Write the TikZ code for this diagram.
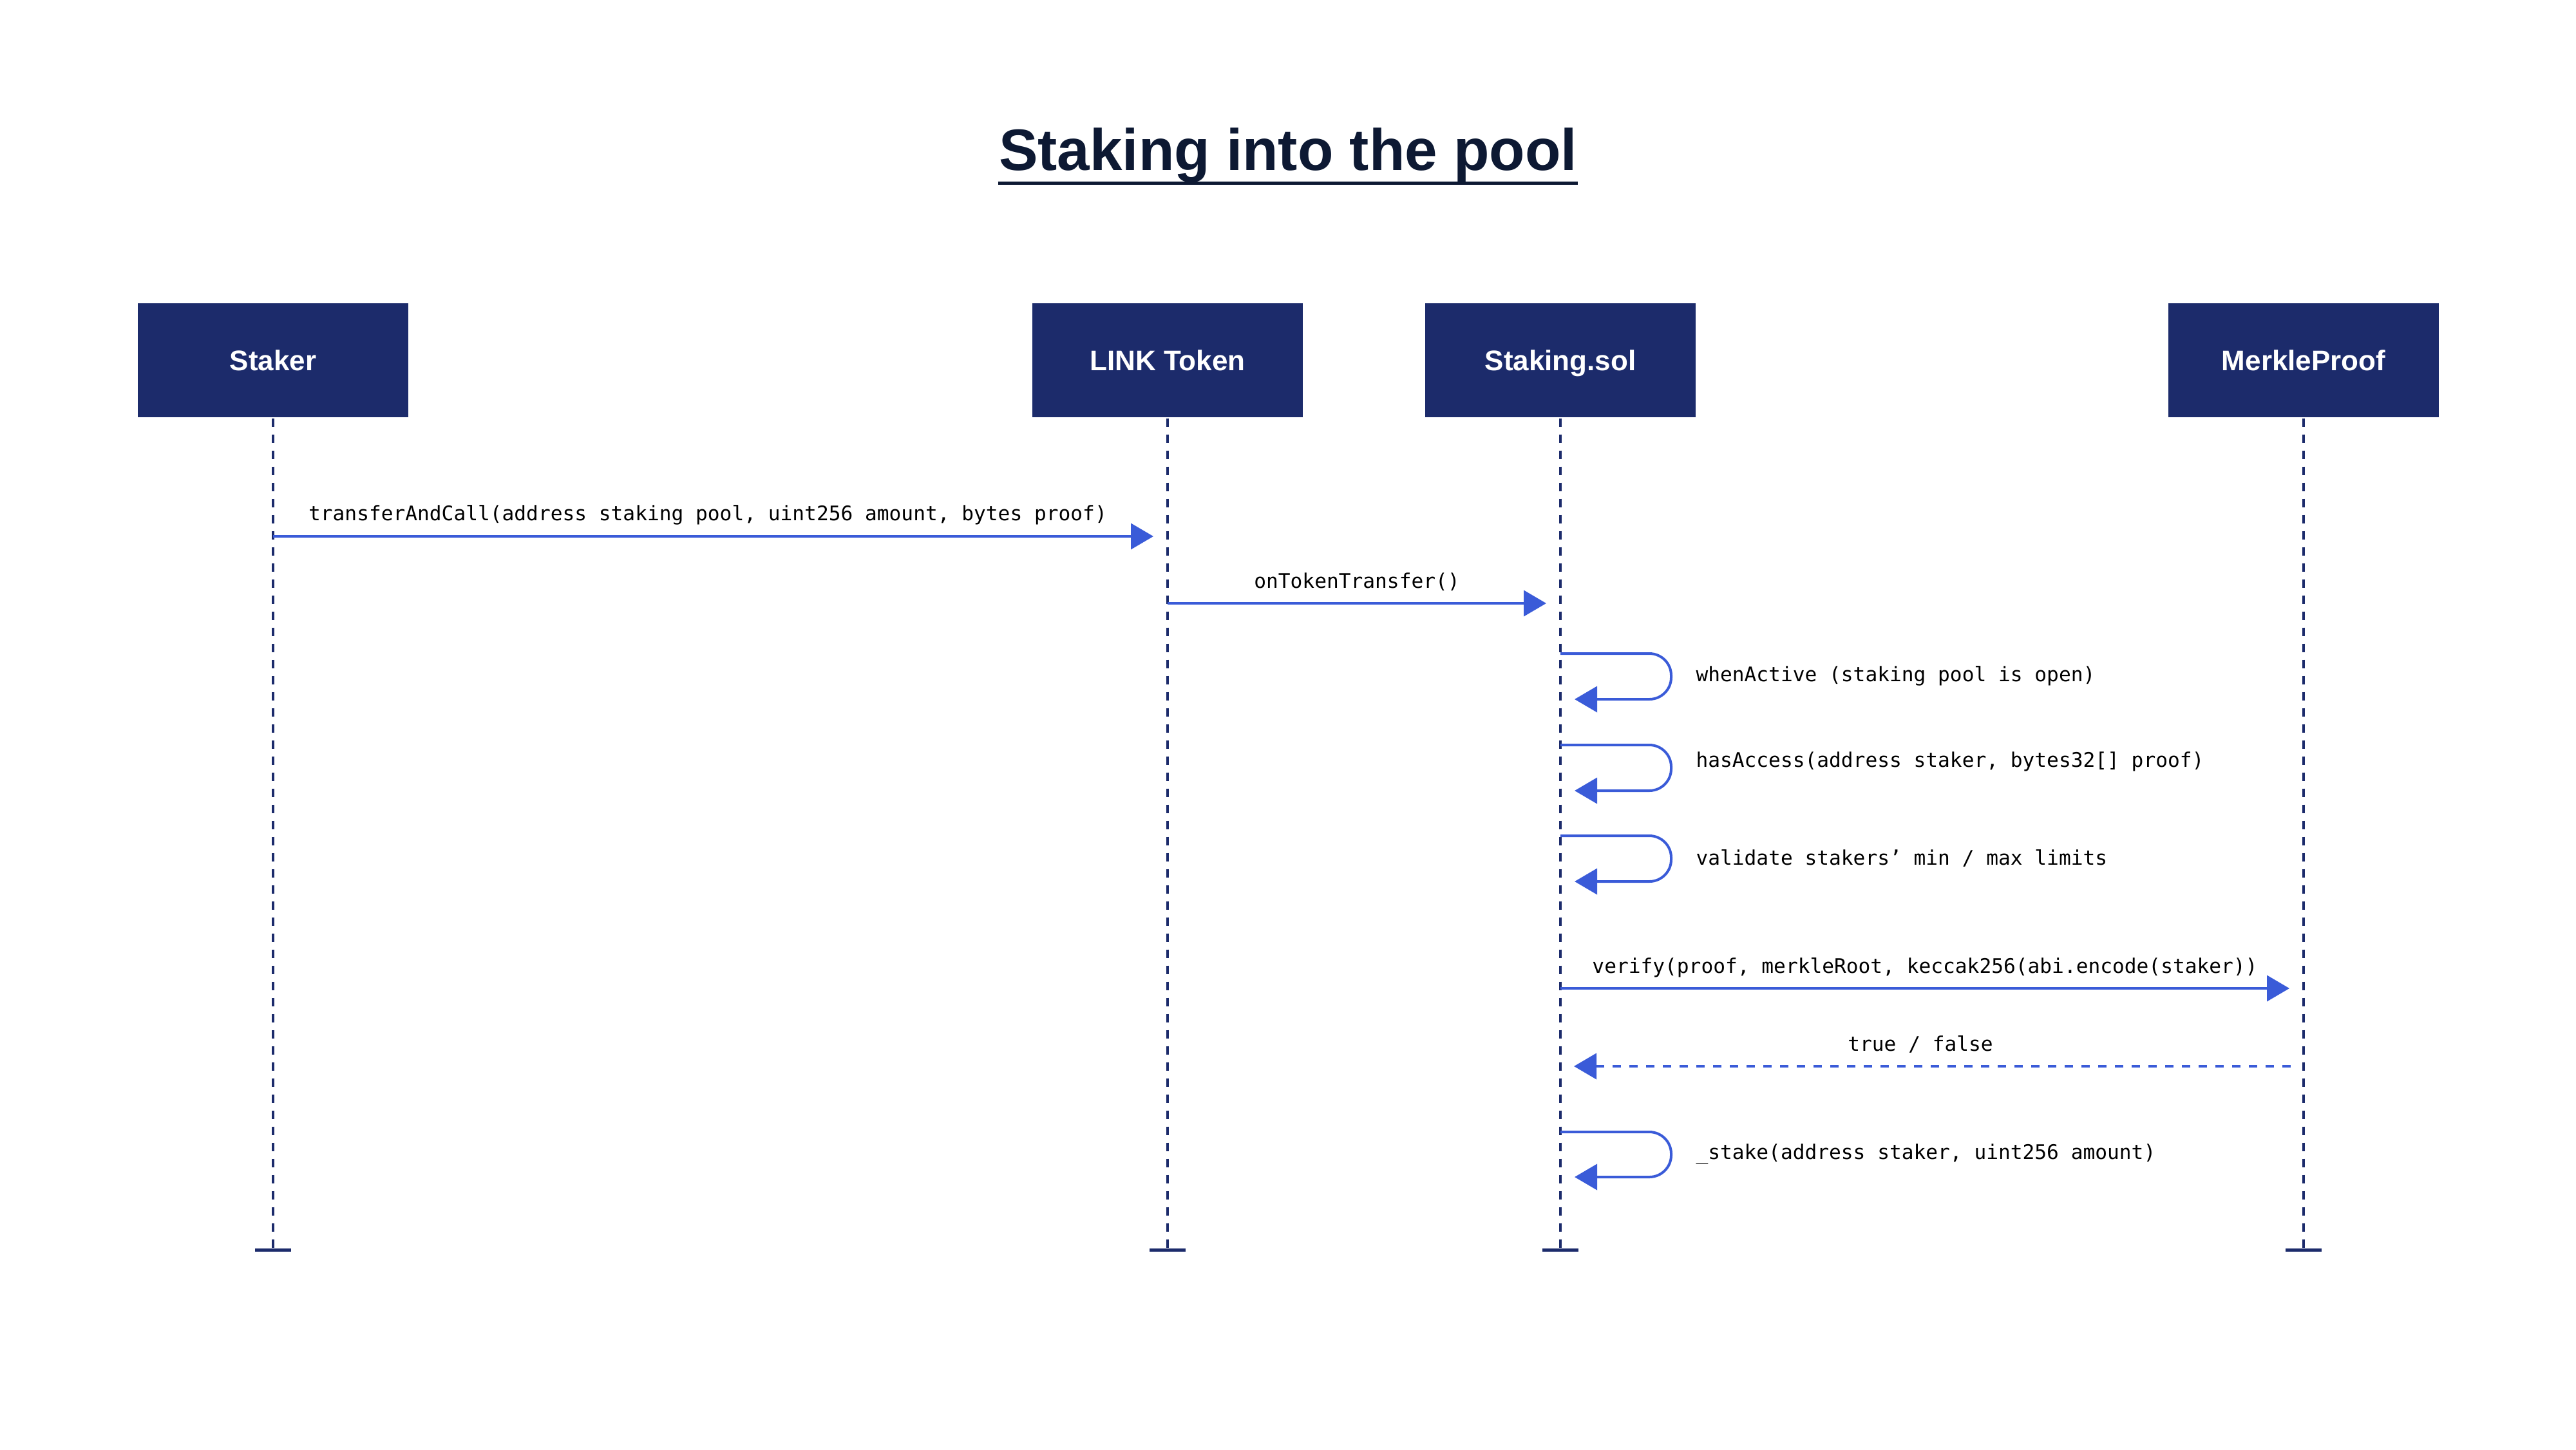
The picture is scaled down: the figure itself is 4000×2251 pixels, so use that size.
\documentclass[tikz,border=0pt]{standalone}
\usepackage{fontspec}
\setmainfont{Liberation Sans}
\setmonofont{DejaVu Sans Mono}
\usetikzlibrary{arrows.meta,calc}

\definecolor{navy}{RGB}{28,43,107}
\definecolor{callblue}{RGB}{58,91,216}
\definecolor{titleink}{RGB}{13,25,51}

\tikzset{every picture/.style={line width=0.75pt}}
\tikzset{
  heading/.style={anchor=base, inner sep=0pt, text=titleink, font=\bfseries\fontsize{22.7}{27}\selectfont},
  actor/.style={fill=navy, text=white, minimum width=105pt, minimum height=44.25pt, inner sep=0pt, text height=7.9pt, text depth=0pt, font=\bfseries\fontsize{11}{13}\selectfont},
  lifeline/.style={draw=navy, line width=1pt, dash pattern={on 3.25pt off 3pt}},
  endbar/.style={draw=navy, line width=1.25pt},
  msg/.style={draw=callblue, line width=1pt, -{Triangle[length=8.75pt,width=10pt]}},
  reply/.style={msg, dash pattern={on 3.25pt off 3.25pt}},
  selfcall/.style={msg, rounded corners=8.5pt},
  msglabel/.style={font=\ttfamily\fontsize{7.8}{9}\selectfont, inner sep=0pt, text=black},
}

\begin{document}
\begin{tikzpicture}[x=0.25pt,y=0.25pt,yscale=-1,xscale=1]
	\useasboundingbox (0,0) rectangle (4000,2251);

	% Text Node
	\node[heading] (title) at (2000,264) {Staking into the pool};
	%Straight Lines
	\draw[titleink, line width=1.25pt] ($(title.base west)+(0,20)$) -- ($(title.base east)+(0,20)$);

	%Shape: Rectangle
	\node[actor] (staker) at (424,559.5) {Staker};
	%Shape: Rectangle
	\node[actor] (link) at (1813,559.5) {LINK Token};
	%Shape: Rectangle
	\node[actor] (staking) at (2423,559.5) {Staking.sol};
	%Shape: Rectangle
	\node[actor] (merkle) at (3577,559.5) {MerkleProof};

	% lifelines with end bars
	\foreach \who/\xx in {staker/424, link/1813, staking/2423, merkle/3577} {
		\coordinate (\who-end) at (\xx,1941);
		\draw[lifeline] (\who.south) -- (\who-end);
		\draw[endbar] ($(\who-end)+(-28,0)$) -- ($(\who-end)+(28,0)$);
	}

	%Straight Lines
	\coordinate (call1) at (424,833);
	\coordinate (recv1) at (1791,833);
	\draw[msg] (call1) -- (recv1);
	% Text Node
	\node[msglabel, anchor=base] (lbl1) at (1099,808) {transferAndCall(address staking pool, uint256 amount, bytes proof)};

	%Straight Lines
	\coordinate (call2) at (1813,937);
	\coordinate (recv2) at (2401,937);
	\draw[msg] (call2) -- (recv2);
	% Text Node
	\node[msglabel, anchor=base] (lbl2) at (2107,913) {onTokenTransfer()};

	%Self call
	\coordinate (call3) at (2423,1015);
	\coordinate (recv3) at (2445,1086);
	\draw[selfcall] (call3) -- ++(172,0) |- (recv3);
	% Text Node
	\node[msglabel, anchor=west] (lbl3) at (2632,1050) {whenActive (staking pool is open)};

	%Self call
	\coordinate (call4) at (2423,1157);
	\coordinate (recv4) at (2445,1228);
	\draw[selfcall] (call4) -- ++(172,0) |- (recv4);
	% Text Node
	\node[msglabel, anchor=west] (lbl4) at (2632,1183) {hasAccess(address staker, bytes32[] proof)};

	%Self call
	\coordinate (call5) at (2423,1298);
	\coordinate (recv5) at (2445,1369);
	\draw[selfcall] (call5) -- ++(172,0) |- (recv5);
	% Text Node
	\node[msglabel, anchor=west] (lbl5) at (2632,1333) {validate stakers’ min / max limits};

	%Straight Lines
	\coordinate (call6) at (2423,1535);
	\coordinate (recv6) at (3555,1535);
	\draw[msg] (call6) -- (recv6);
	% Text Node
	\node[msglabel, anchor=base] (lbl6) at (2989,1511) {verify(proof, merkleRoot, keccak256(abi.encode(staker))};

	%Dashed Lines
	\coordinate (call7) at (3557,1656);
	\coordinate (recv7) at (2444,1656);
	\draw[reply] (call7) -- (recv7);
	% Text Node
	\node[msglabel, anchor=base] (lbl7) at (2982,1632) {true / false};

	%Self call
	\coordinate (call8) at (2423,1758);
	\coordinate (recv8) at (2445,1828);
	\draw[selfcall] (call8) -- ++(172,0) |- (recv8);
	% Text Node
	\node[msglabel, anchor=west] (lbl8) at (2632,1792) {\_stake(address staker, uint256 amount)};

\end{tikzpicture}
\end{document}
